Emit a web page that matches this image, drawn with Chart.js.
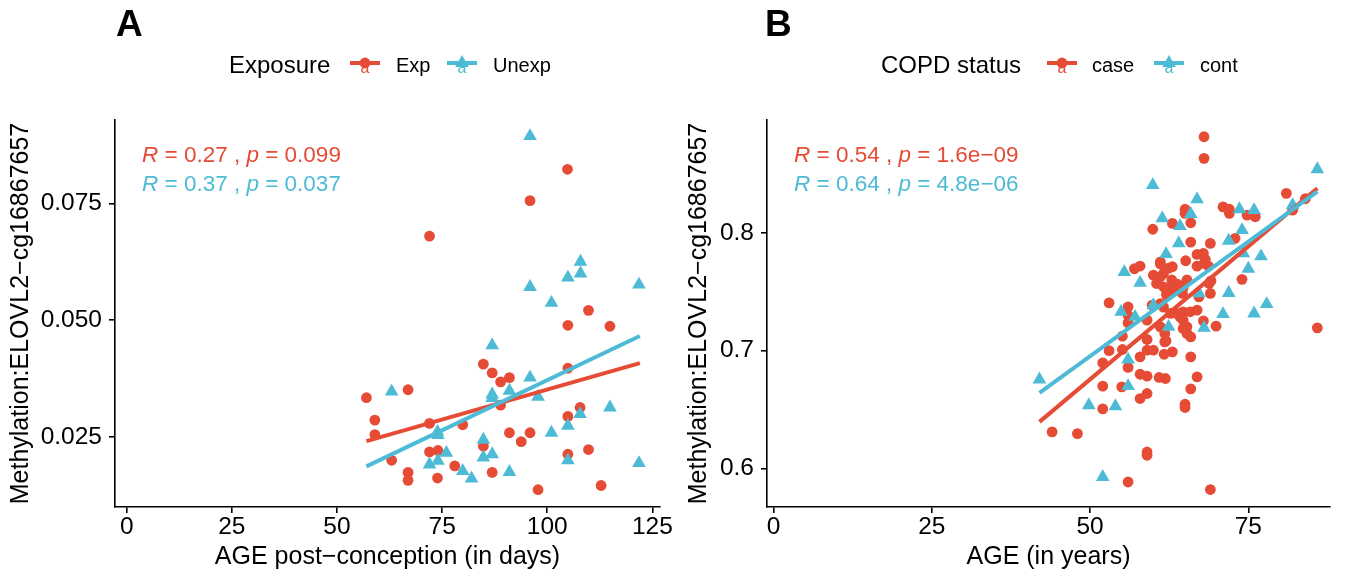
<!DOCTYPE html>
<html>
<head>
<meta charset="utf-8">
<script src="https://cdn.jsdelivr.net/npm/chart.js@4.4.1/dist/chart.umd.min.js"></script>
<style>
  body { margin: 0; background: #fff; font-family: "Liberation Sans", Arial, sans-serif; }
  #wrap { position: relative; width: 1349px; height: 577px; overflow: hidden; }
  canvas { position: absolute; top: 0; }
  .txt { position: absolute; white-space: nowrap; line-height: 1; color: #000; }
  .tag { font-size: 37px; font-weight: bold; }
  .ltitle { font-size: 24px; }
  .llabel { font-size: 20px; }
  .stat { font-size: 22.5px; }
  .key { position: absolute; }
</style>
</head>
<body>
<div id="wrap">
  <canvas id="chartA" width="675" height="577" style="left:0"></canvas>
  <canvas id="chartB" width="674" height="577" style="left:675px"></canvas>

  <div class="txt tag" style="left:116px;top:5px">A</div>
  <div class="txt tag" style="left:765px;top:5px">B</div>

  <div class="txt ltitle" style="left:229px;top:53px">Exposure</div>
  <svg class="key" style="left:350px;top:48px" width="30" height="30" id="keyA1"></svg>
  <div class="txt llabel" style="left:396px;top:55px">Exp</div>
  <svg class="key" style="left:447px;top:48px" width="30" height="30" id="keyA2"></svg>
  <div class="txt llabel" style="left:493px;top:55px">Unexp</div>

  <div class="txt ltitle" style="left:881px;top:53px">COPD status</div>
  <svg class="key" style="left:1047px;top:48px" width="30" height="30" id="keyB1"></svg>
  <div class="txt llabel" style="left:1092px;top:55px">case</div>
  <svg class="key" style="left:1154px;top:48px" width="30" height="30" id="keyB2"></svg>
  <div class="txt llabel" style="left:1200px;top:55px">cont</div>

  <div class="txt stat" id="statA1" style="left:142px;top:144px"></div>
  <div class="txt stat" id="statA2" style="left:142px;top:173px"></div>
  <div class="txt stat" id="statB1" style="left:794px;top:144px"></div>
  <div class="txt stat" id="statB2" style="left:794px;top:173px"></div>
</div>

<script>
const RED = "#E64B35";
const BLUE = "#4DBBD5";
const FONT = '"Liberation Sans", Arial, sans-serif';

// Panel A: Exposure groups (age post-conception in days vs methylation)
const expAge = [104.8, 95.9, 72.0, 109.8, 104.9, 114.9, 84.8, 86.9, 88.9, 91.0,
  104.9, 88.9, 57.0, 66.9, 59.0, 59.0, 72.0, 79.9, 107.8, 104.9,
  91.0, 95.9, 93.8, 84.8, 72.0, 74.0, 63.0, 78.0, 66.9, 66.9,
  73.9, 86.9, 104.9, 109.8, 97.8, 112.8];
const expMeth = [0.0823, 0.0756, 0.0680, 0.0521, 0.0489, 0.0487, 0.0406, 0.0387, 0.0368, 0.0377,
  0.0397, 0.0318, 0.0334, 0.0351, 0.0286, 0.0255, 0.0279, 0.0276, 0.0313, 0.0294,
  0.0259, 0.0259, 0.0240, 0.0230, 0.0218, 0.0221, 0.0200, 0.0188, 0.0174, 0.0157,
  0.0162, 0.0174, 0.0213, 0.0223, 0.0137, 0.0146];
const unexpAge = [95.9, 107.9, 104.9, 107.9, 95.9, 121.8, 101.0, 86.9, 95.9, 86.9,
  91.0, 97.8, 86.9, 63.0, 73.9, 74.0, 104.9, 107.8, 114.9, 101.0,
  84.8, 76.0, 72.0, 74.0, 79.9, 82.0, 84.8, 86.9, 91.0, 104.9, 121.8];
const unexpMeth = [0.0894, 0.0625, 0.0591, 0.0600, 0.0571, 0.0576, 0.0537, 0.0446, 0.0377, 0.0341,
  0.0349, 0.0336, 0.0333, 0.0347, 0.0261, 0.0254, 0.0274, 0.0299, 0.0313, 0.0259,
  0.0244, 0.0216, 0.0191, 0.0199, 0.0177, 0.0161, 0.0206, 0.0213, 0.0175, 0.0200, 0.0194];
// fitted lines (end points)
const expFitAge = [57, 122];
const expFitMeth = [0.0241, 0.0408];
const unexpFitAge = [57, 122];
const unexpFitMeth = [0.0187, 0.0466];
const xTicksA = [0, 25, 50, 75, 100, 125];
const yTicksA = [0.025, 0.050, 0.075];

// Panel B: COPD status (age in years vs methylation)
const caseAge = [68.0, 68.0, 81.0, 84.0, 82.0, 71.0, 72.0, 72.0, 74.8, 76.1,
  65.0, 65.0, 63.0, 65.9, 59.9, 72.9, 69.0, 65.9, 66.9, 67.9,
  61.1, 61.1, 65.1, 66.9, 68.0, 57.0, 57.9, 63.0, 60.0, 61.6,
  60.5, 61.6, 63.8, 69.1, 74.0, 64.7, 63.1, 64.6, 69.0, 53.0,
  56.0, 56.0, 56.0, 59.0, 64.2, 65.3, 65.3, 65.9, 67.9, 69.9,
  85.9, 67.2, 55.1, 59.0, 62.0, 53.0, 55.1, 59.0, 60.0, 63.0,
  57.9, 52.0, 56.0, 65.9, 57.9, 59.0, 60.9, 61.9, 66.9, 52.0,
  55.0, 65.9, 59.0, 57.9, 65.0, 65.0, 52.0, 44.0, 48.0, 59.0,
  59.0, 56.0, 69.0,
  61.1, 62.4, 62.9, 65.3, 61.1, 62.1, 59.8, 61.1, 61.7, 62.7,
  63.7, 62.1, 68.8, 61.6, 62.7, 63.7, 64.7, 65.8, 66.9, 64.7,
  64.7, 61.8, 61.8, 68.2, 68.7];
const caseMeth = [0.8815, 0.8632, 0.8335, 0.8289, 0.8193, 0.8220, 0.8200, 0.8165, 0.8150, 0.8136,
  0.8200, 0.8165, 0.8080, 0.8085, 0.8030, 0.7953, 0.7910, 0.7921, 0.7817, 0.7826,
  0.7754, 0.7735, 0.7763, 0.7717, 0.7740, 0.7695, 0.7718, 0.7712, 0.7641, 0.7655,
  0.7570, 0.7542, 0.7565, 0.7593, 0.7605, 0.7537, 0.7508, 0.7486, 0.7486, 0.7406,
  0.7372, 0.7300, 0.7236, 0.7259, 0.7287, 0.7202, 0.7146, 0.7117, 0.7253, 0.7208,
  0.7194, 0.7457, 0.7123, 0.7095, 0.7083, 0.7000, 0.7010, 0.7004, 0.7004, 0.6990,
  0.6947, 0.6897, 0.6858, 0.6947, 0.6800, 0.6784, 0.6773, 0.6764, 0.6778, 0.6699,
  0.6693, 0.6676, 0.6637, 0.6594, 0.6546, 0.6518, 0.6506, 0.6311, 0.6297, 0.6141,
  0.6113, 0.5886, 0.5822,
  0.7627, 0.7700, 0.7600, 0.7600, 0.7400, 0.7470, 0.7386, 0.7202, 0.6970, 0.7540,
  0.7556, 0.7486, 0.7570, 0.7370, 0.7316, 0.7316, 0.7330, 0.7330, 0.7344, 0.7259,
  0.7189, 0.7146, 0.7075, 0.7775, 0.7718];
const contAge = [85.9, 59.9, 66.9, 82.0, 73.6, 75.9, 65.9, 61.4, 64.2, 74.0,
  71.9, 64.0, 62.0, 74.2, 77.0, 55.4, 75.0, 57.9, 71.9, 67.2,
  54.9, 71.0, 75.9, 77.9, 57.1, 60.0, 62.4, 68.0, 56.0, 56.0,
  49.8, 54.0, 42.0, 52.0];
const contMeth = [0.8539, 0.8405, 0.8284, 0.8235, 0.8200, 0.8193, 0.8160, 0.8123, 0.8057, 0.8023,
  0.7933, 0.7910, 0.7820, 0.7826, 0.7800, 0.7667, 0.7695, 0.7576, 0.7490, 0.7486,
  0.7330, 0.7310, 0.7316, 0.7395, 0.7287, 0.7386, 0.7202, 0.7194, 0.6925, 0.6699,
  0.6537, 0.6529, 0.6756, 0.5929];
const caseFitAge = [42.0, 85.9];
const caseFitMeth = [0.6396, 0.8377];
const contFitAge = [42.0, 85.9];
const contFitMeth = [0.6642, 0.8349];
const xTicksB = [0, 25, 50, 75];
const yTicksB = [0.6, 0.7, 0.8];

// correlation labels
const statA = [["0.27", "0.099"], ["0.37", "0.037"]];
const statB = [["0.54", "1.6e\u221209"], ["0.64", "4.8e\u221206"]];

const toPoints = (xs, ys) => xs.map((x, i) => ({ x: x, y: ys[i] }));

function pointSet(xs, ys, color, style) {
  return {
    data: toPoints(xs, ys),
    pointStyle: style,
    pointRadius: style === "triangle" ? 7.9 : 5.4,
    pointBackgroundColor: color,
    pointBorderWidth: 0,
    borderColor: color,
    showLine: false,
    order: 2
  };
}

function fitSet(xs, ys, color, order) {
  return {
    data: toPoints(xs, ys),
    showLine: true,
    borderColor: color,
    borderWidth: 4,
    borderCapStyle: "butt",
    pointRadius: 0,
    order: order
  };
}

function axis(opt) {
  return {
    type: "linear",
    min: opt.min,
    max: opt.max,
    border: { display: true, color: "#000", width: 1.6 },
    grid: { display: true, drawOnChartArea: false, drawTicks: true, tickLength: 6, color: "#000", lineWidth: 1.6 },
    ticks: { color: "#000", font: { family: FONT, size: 24.5 }, padding: opt.tickPad, callback: opt.fmt },
    afterBuildTicks: (s) => { s.ticks = opt.ticks.map((v) => ({ value: v })); },
    afterFit: (s) => { if (opt.width) s.width = opt.width; if (opt.height) s.height = opt.height; },
    title: { display: true, text: opt.title, color: "#000", font: { family: FONT, size: 25 }, padding: opt.titlePad }
  };
}

function makePanel(canvasId, datasets, xOpt, yOpt, padRight) {
  const ctx = document.getElementById(canvasId).getContext("2d");
  return new Chart(ctx, {
    type: "scatter",
    data: { datasets: datasets },
    options: {
      responsive: false,
      animation: false,
      layout: { padding: { left: 0, top: 120, right: padRight, bottom: 0 } },
      plugins: { legend: { display: false }, tooltip: { enabled: false } },
      scales: { x: axis(xOpt), y: axis(yOpt) }
    }
  });
}

makePanel("chartA", [
  fitSet(unexpFitAge, unexpFitMeth, BLUE, 0),
  fitSet(expFitAge, expFitMeth, RED, 1),
  pointSet(unexpAge, unexpMeth, BLUE, "triangle"),
  pointSet(expAge, expMeth, RED, "circle")
], {
  min: -2.78, max: 126.8, ticks: xTicksA, fmt: (v) => String(v), tickPad: 0, height: 70,
  title: "AGE post\u2212conception (in days)", titlePad: { top: 0, bottom: 5 }
}, {
  min: 0.0100, max: 0.09285, ticks: yTicksA, fmt: (v) => v.toFixed(3), tickPad: 7, width: 115,
  title: "Methylation:ELOVL2\u2212cg16867657", titlePad: { top: 6.5, bottom: 0 }
}, 15);

makePanel("chartB", [
  fitSet(contFitAge, contFitMeth, BLUE, 0),
  fitSet(caseFitAge, caseFitMeth, RED, 1),
  pointSet(contAge, contMeth, BLUE, "triangle"),
  pointSet(caseAge, caseMeth, RED, "circle")
], {
  min: -1.04, max: 87.9, ticks: xTicksB, fmt: (v) => String(v), tickPad: 0, height: 70,
  title: "AGE (in years)", titlePad: { top: 0, bottom: 5 }
}, {
  min: 0.5674, max: 0.8957, ticks: yTicksB, fmt: (v) => v.toFixed(1), tickPad: 7, width: 92,
  title: "Methylation:ELOVL2\u2212cg16867657", titlePad: { top: 9.6, bottom: 0 }
}, 19);

// correlation text
function statLine(id, pair, color) {
  const el = document.getElementById(id);
  el.style.color = color;
  el.innerHTML = "<i>R</i> = " + pair[0] + " , <i>p</i> = " + pair[1];
}
statLine("statA1", statA[0], RED);
statLine("statA2", statA[1], BLUE);
statLine("statB1", statB[0], RED);
statLine("statB2", statB[1], BLUE);

// legend keys: line + point + "a"
function drawKey(id, color, style) {
  const svg = document.getElementById(id);
  let mark;
  if (style === "triangle") {
    mark = '<polygon points="15,7.1 21.8,19 8.2,19" fill="' + color + '"/>';
  } else {
    mark = '<circle cx="15" cy="15" r="5.4" fill="' + color + '"/>';
  }
  svg.innerHTML =
    '<line x1="0" y1="15" x2="30" y2="15" stroke="' + color + '" stroke-width="4"/>' +
    '<text x="15" y="24.5" text-anchor="middle" font-size="16" font-family=\'' + FONT + '\' fill="' + color + '">a</text>' +
    mark;
}
drawKey("keyA1", RED, "circle");
drawKey("keyA2", BLUE, "triangle");
drawKey("keyB1", RED, "circle");
drawKey("keyB2", BLUE, "triangle");
</script>
</body>
</html>
